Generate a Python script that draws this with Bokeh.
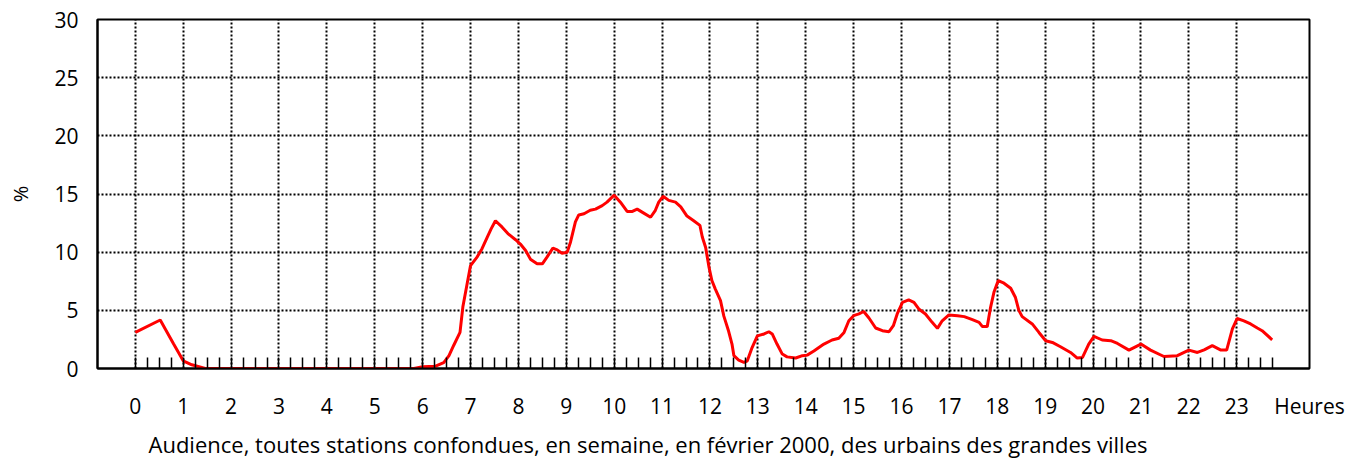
from bokeh.plotting import figure
from bokeh.models import Range1d, FixedTicker, Title
from bokeh.embed import file_html
from bokeh.resources import INLINE

# ---- data ----
hours = [0, 0.52, 0.8, 1.0, 1.18, 1.46, 5.82, 6.0, 6.27, 6.44, 6.55, 6.65, 6.78, 6.84, 6.93,
         7.0, 7.14, 7.24, 7.35, 7.43, 7.52, 7.66, 7.78, 7.94, 8.04, 8.15, 8.25, 8.39, 8.5,
         8.6, 8.72, 8.81, 8.91, 9.02, 9.09, 9.19, 9.26, 9.37, 9.5, 9.61, 9.75, 9.85, 10.0,
         10.13, 10.27, 10.38, 10.48, 10.6, 10.76, 10.86, 10.93, 11.02, 11.14, 11.28, 11.39,
         11.52, 11.66, 11.79, 11.84, 11.91, 11.98, 12.04, 12.11, 12.22, 12.29, 12.39, 12.46,
         12.5, 12.6, 12.71, 12.78, 12.88, 12.99, 13.13, 13.23, 13.3, 13.4, 13.51, 13.61,
         13.79, 13.93, 14.03, 14.17, 14.38, 14.55, 14.69, 14.8, 14.9, 15.0, 15.11, 15.21,
         15.32, 15.46, 15.6, 15.74, 15.83, 15.91, 16.02, 16.15, 16.26, 16.36, 16.5, 16.64,
         16.75, 16.85, 16.99, 17.17, 17.31, 17.48, 17.62, 17.69, 17.79, 17.86, 17.93, 18.02,
         18.14, 18.28, 18.38, 18.45, 18.52, 18.73, 18.87, 19.01, 19.15, 19.32, 19.53, 19.67,
         19.78, 19.91, 20.02, 20.19, 20.37, 20.51, 20.75, 21.0, 21.2, 21.48, 21.76, 22.0,
         22.18, 22.32, 22.49, 22.66, 22.79, 22.91, 23.01, 23.15, 23.29, 23.43, 23.53, 23.74]

audience = [3.1, 4.17, 2.1, 0.66, 0.32, 0, 0, 0.15, 0.2, 0.5, 1.1, 2.0, 3.1, 5.3, 7.3,
            8.85, 9.6, 10.3, 11.3, 12.0, 12.7, 12.15, 11.6, 11.07, 10.7, 10.15, 9.4, 9.0, 9.0,
            9.6, 10.35, 10.2, 9.9, 10.0, 10.9, 12.6, 13.2, 13.3, 13.6, 13.7, 14.0, 14.3, 14.9,
            14.3, 13.5, 13.5, 13.7, 13.4, 13.0, 13.6, 14.3, 14.8, 14.45, 14.3, 13.9,
            13.1, 12.7, 12.3, 11.3, 10.4, 8.7, 7.56, 6.85, 5.84, 4.5, 3.2, 2.1,
            1.1, 0.72, 0.52, 0.66, 1.8, 2.8, 2.97, 3.16, 2.97, 2.1, 1.24, 1.0,
            0.9, 1.1, 1.15, 1.5, 2.1, 2.45, 2.6, 3.1, 4.1, 4.54, 4.69, 4.9,
            4.34, 3.48, 3.25, 3.16, 3.68, 4.69, 5.69, 5.9, 5.69, 5.12, 4.69, 3.97,
            3.45, 4.1, 4.6, 4.54, 4.46, 4.2, 3.97, 3.6, 3.6, 5.26, 6.55, 7.56,
            7.33, 6.9, 6.1, 5.0, 4.46, 3.83, 3.1, 2.39, 2.24, 1.87, 1.38, 0.9,
            0.95, 2.1, 2.76, 2.45, 2.39, 2.15, 1.58, 2.1, 1.58, 1.03, 1.1, 1.58,
            1.38, 1.6, 1.96, 1.6, 1.58, 3.4, 4.3, 4.1, 3.83, 3.48, 3.25, 2.47]

hour_ticks = list(range(24))
y_ticks = [0, 5, 10, 15, 20, 25, 30]
y_label = "%"
x_unit_label = "Heures"
x_unit_pos = 24.52
caption = "Audience, toutes stations confondues, en semaine, en février 2000, des urbains des grandes villes"

assert len(hours) == len(audience)

FONT = "Open Sans"

p = figure(width=1366, height=462,
           x_range=Range1d(-0.79, 24.52), y_range=Range1d(0, 30),
           output_backend="svg", toolbar_location=None,
           min_border_left=97, min_border_right=57, min_border_top=19, min_border_bottom=94)

p.background_fill_color = "white"
p.border_fill_color = "white"
p.outline_line_color = "black"
p.outline_line_width = 2
p.outline_line_alpha = 1

quarter_ticks = [h + q / 4 for h in hour_ticks for q in range(4)]

xa = p.xaxis[0]
xa.ticker = FixedTicker(ticks=hour_ticks + [x_unit_pos], minor_ticks=quarter_ticks)
xa.major_label_overrides = {x_unit_pos: x_unit_label}
xa.axis_line_color = "black"
xa.axis_line_width = 2
xa.major_tick_in = 0
xa.major_tick_out = 0
xa.minor_tick_in = 11
xa.minor_tick_out = 0
xa.minor_tick_line_width = 1.5
xa.minor_tick_line_color = "black"
xa.major_label_text_font = FONT
xa.major_label_text_font_size = "21px"
xa.major_label_text_color = "black"
xa.major_label_standoff = 23

ya = p.yaxis[0]
ya.ticker = FixedTicker(ticks=y_ticks)
ya.axis_line_color = "black"
ya.axis_line_width = 2
ya.major_tick_in = 0
ya.major_tick_out = 0
ya.minor_tick_line_color = None
ya.major_label_text_font = FONT
ya.major_label_text_font_size = "21px"
ya.major_label_text_color = "black"
ya.major_label_standoff = 19
ya.axis_label = y_label
ya.axis_label_text_font = FONT
ya.axis_label_text_font_size = "20px"
ya.axis_label_text_font_style = "normal"
ya.axis_label_text_color = "black"
ya.axis_label_standoff = 17

p.xgrid[0].ticker = FixedTicker(ticks=hour_ticks)
for g in (p.xgrid[0], p.ygrid[0]):
    g.grid_line_color = "black"
    g.grid_line_width = 2
    g.grid_line_dash = "2 2"
    g.grid_line_alpha = 1

p.line(hours, audience, line_color="#ff0000", line_width=3)

p.add_layout(Title(text=caption, align="left", offset=51, standoff=8,
                   text_font=FONT, text_font_size="22px", text_font_style="normal",
                   text_color="black"), "below")

open("out.html", "w").write(file_html(p, INLINE))
